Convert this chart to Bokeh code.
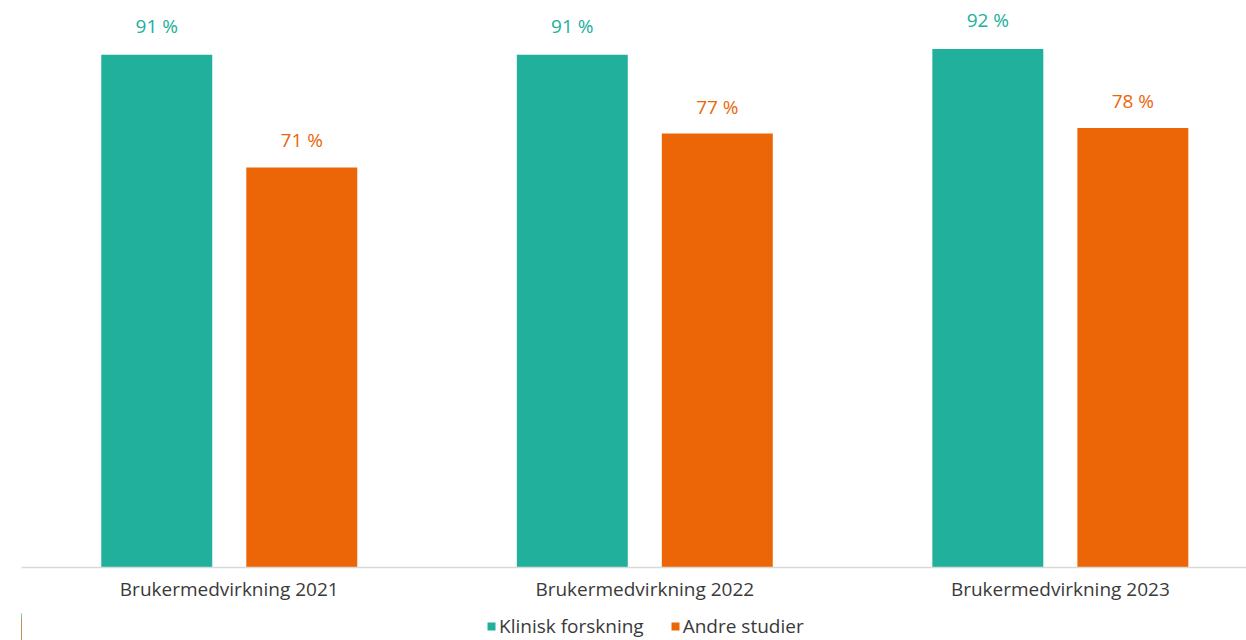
from bokeh.plotting import figure
from bokeh.models import ColumnDataSource, Range1d, FixedTicker, Legend, LegendItem
from bokeh.layouts import column
from bokeh.transform import dodge
from bokeh.core.properties import value
from bokeh.embed import file_html
from bokeh.resources import INLINE

categories = ["Brukermedvirkning 2021", "Brukermedvirkning 2022", "Brukermedvirkning 2023"]
klinisk = [91, 91, 92]
andre = [71, 77, 78]
series_names = ["Klinisk forskning", "Andre studier"]

TEAL = "#20b09b"
ORANGE = "#ec6608"
FONT = "Open Sans"

xs = list(range(len(categories)))
src = ColumnDataSource(dict(
    x=xs,
    klinisk=klinisk,
    andre=andre,
    klinisk_lbl=[f"{v} %" for v in klinisk],
    andre_lbl=[f"{v} %" for v in andre],
))

p = figure(
    width=1246, height=610,
    min_border_left=21, min_border_right=0, min_border_top=8, min_border_bottom=43,
    x_range=Range1d(-0.5, 2.448), y_range=Range1d(0, 99.2),
    output_backend="svg", toolbar_location=None,
)
p.outline_line_color = None
p.grid.visible = False
p.yaxis.visible = False
p.background_fill_color = "white"
p.border_fill_color = "white"

off = 0.1745
w = 0.267
p.vbar(x=dodge("x", -off, range=p.x_range), top="klinisk", width=w, bottom=0,
       source=src, fill_color=TEAL, line_color=None)
p.vbar(x=dodge("x", off, range=p.x_range), top="andre", width=w, bottom=0,
       source=src, fill_color=ORANGE, line_color=None)

p.text(x=dodge("x", -off, range=p.x_range), y="klinisk", text="klinisk_lbl", source=src,
       text_align="center", text_baseline="middle", y_offset=-29,
       text_font=value(FONT), text_font_size="19px", text_color=TEAL)
p.text(x=dodge("x", off, range=p.x_range), y="andre", text="andre_lbl", source=src,
       text_align="center", text_baseline="middle", y_offset=-27,
       text_font=value(FONT), text_font_size="19px", text_color=ORANGE)

ax = p.xaxis[0]
ax.ticker = FixedTicker(ticks=xs)
ax.major_label_overrides = {i: c for i, c in enumerate(categories)}
ax.major_tick_line_color = None
ax.minor_tick_line_color = None
ax.major_tick_out = 0
ax.major_tick_in = 0
ax.axis_line_color = "#d9d9d9"
ax.axis_line_width = 1.5
ax.major_label_standoff = 8
ax.major_label_text_font = FONT
ax.major_label_text_font_size = "19px"
ax.major_label_text_color = "#3a3a3a"

# legend strip below the chart (same series, zero-width and outside its visible range)
leg = figure(
    width=1246, height=30,
    min_border_left=0, min_border_right=0, min_border_top=0, min_border_bottom=0,
    x_range=Range1d(100, 101), y_range=Range1d(0, 100),
    output_backend="svg", toolbar_location=None,
)
leg.outline_line_color = None
leg.grid.visible = False
leg.axis.visible = False
leg.background_fill_color = "white"
leg.border_fill_color = "white"
g1 = leg.vbar(x="x", top="klinisk", width=0, bottom=0, source=src,
              fill_color=TEAL, line_color=None)
g2 = leg.vbar(x="x", top="andre", width=0, bottom=0, source=src,
              fill_color=ORANGE, line_color=None)

legend = Legend(items=[LegendItem(label=series_names[0], renderers=[g1]),
                       LegendItem(label=series_names[1], renderers=[g2])],
                orientation="horizontal", location=(465, 1))
legend.border_line_color = None
legend.background_fill_alpha = 0
legend.label_text_font = FONT
legend.label_text_font_size = "19px"
legend.label_text_color = "#3a3a3a"
legend.glyph_width = 10
legend.glyph_height = 10
legend.label_standoff = 3
legend.spacing = 26
legend.padding = 0
legend.margin = 0
legend.label_height = 20
leg.add_layout(legend, "center")

layout = column(p, leg, spacing=0)
open("out.html", "w").write(file_html(layout, INLINE))
